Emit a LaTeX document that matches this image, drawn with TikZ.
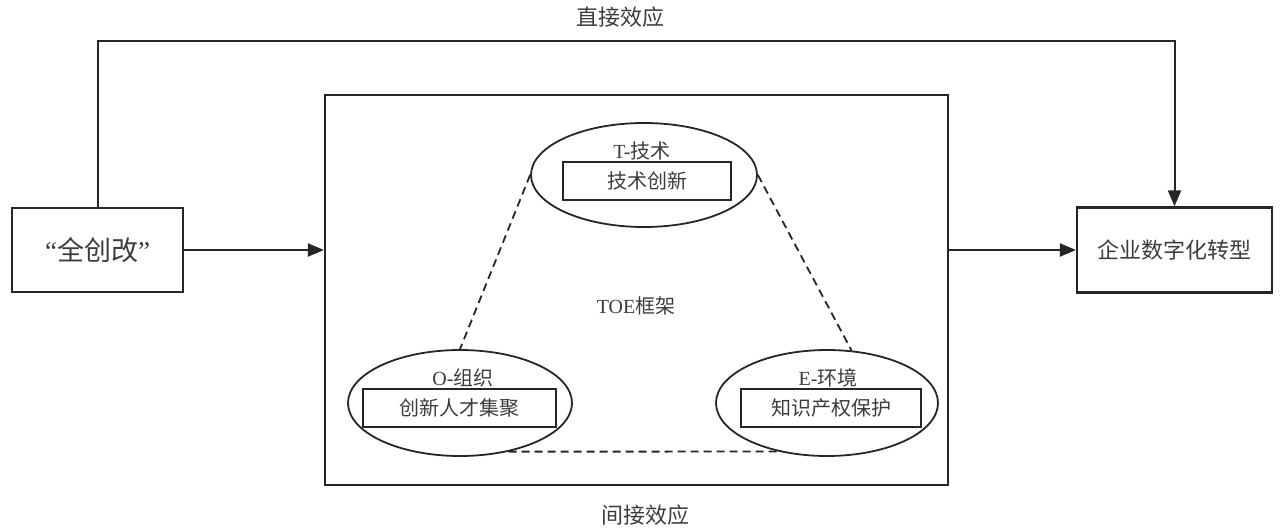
\documentclass[tikz,border=0pt]{standalone}
\usepackage{fontspec}
\setmainfont{Liberation Serif}
\newfontfamily\cjk{Noto Sans CJK SC}
\usetikzlibrary{shapes.geometric,arrows.meta}
\definecolor{txt}{HTML}{3C3C3C}
\definecolor{ln}{HTML}{262626}
\begin{document}
\begin{tikzpicture}[x=1pt, y=-1pt,
		box/.style={draw=ln, line width=2.2pt, text=txt, inner sep=0pt},
		oval/.style={draw=ln, line width=1.8pt, ellipse, inner sep=0pt},
		factor/.style={draw=ln, line width=1.8pt, inner sep=0pt, minimum height=38pt, text=txt, font=\fontsize{20}{24}\selectfont\cjk},
		lbl/.style={text=txt, inner sep=0pt, font=\fontsize{20}{24}\selectfont},
		arr/.style={draw=ln, line width=2pt, -{Triangle[length=16pt,width=13pt]}},
		link/.style={draw=ln, line width=1.8pt, dash pattern=on 8pt off 5pt}]
			\useasboundingbox (0,0) rectangle (1284,528);
			\node[box, minimum width=171pt, minimum height=84pt, font=\fontsize{27}{31}\selectfont] (qcg) at (97.5,250) {“{\cjk 全创改}”};
			\node[box, minimum width=195pt, minimum height=85pt, font=\fontsize{22}{26}\selectfont\cjk] (szh) at (1174.5,250) {企业数字化转型};
			\node[box, minimum width=623pt, minimum height=390pt] (toe) at (636.5,290) {};
			\coordinate (top) at (0,41);
			\draw[arr] (qcg.north) -- (qcg.north |- top) -| (szh.north);
			\node[lbl, font=\fontsize{22}{26}\selectfont\cjk] (direct) at (620,17) {直接效应};
			\draw[arr] (qcg.east) -- (toe.west |- qcg.east);
			\draw[arr] (toe.east |- szh.west) -- (szh.west);
			\node[lbl, font=\fontsize{22}{26}\selectfont\cjk] (indirect) at (645,515) {间接效应};
			\node[lbl] (frame) at (636,306) {TOE{\cjk 框架}};
			% T, O, E
			\node[oval, minimum width=226pt, minimum height=104pt] (tech) at (644,175) {};
			\node[oval, minimum width=224pt, minimum height=106pt] (org) at (460,403) {};
			\node[oval, minimum width=222pt, minimum height=106pt] (env) at (827,403) {};
			\node[lbl] (techl) at (642,151) {T-{\cjk 技术}};
			\node[lbl] (orgl) at (463,378) {O-{\cjk 组织}};
			\node[lbl] (envl) at (828,378) {E-{\cjk 环境}};
			\node[factor, minimum width=168pt] (techf) at (647,181) {技术创新};
			\node[factor, minimum width=193pt] (orgf) at (459.5,408) {创新人才集聚};
			\node[factor, minimum width=180pt] (envf) at (831,408) {知识产权保护};
			\draw[link] (tech.west) -- (org.north);
			\draw[link] (tech.east) -- (env.65);
			\draw[link] (org.-45) -- (env.-135);
		\end{tikzpicture}
\end{document}
